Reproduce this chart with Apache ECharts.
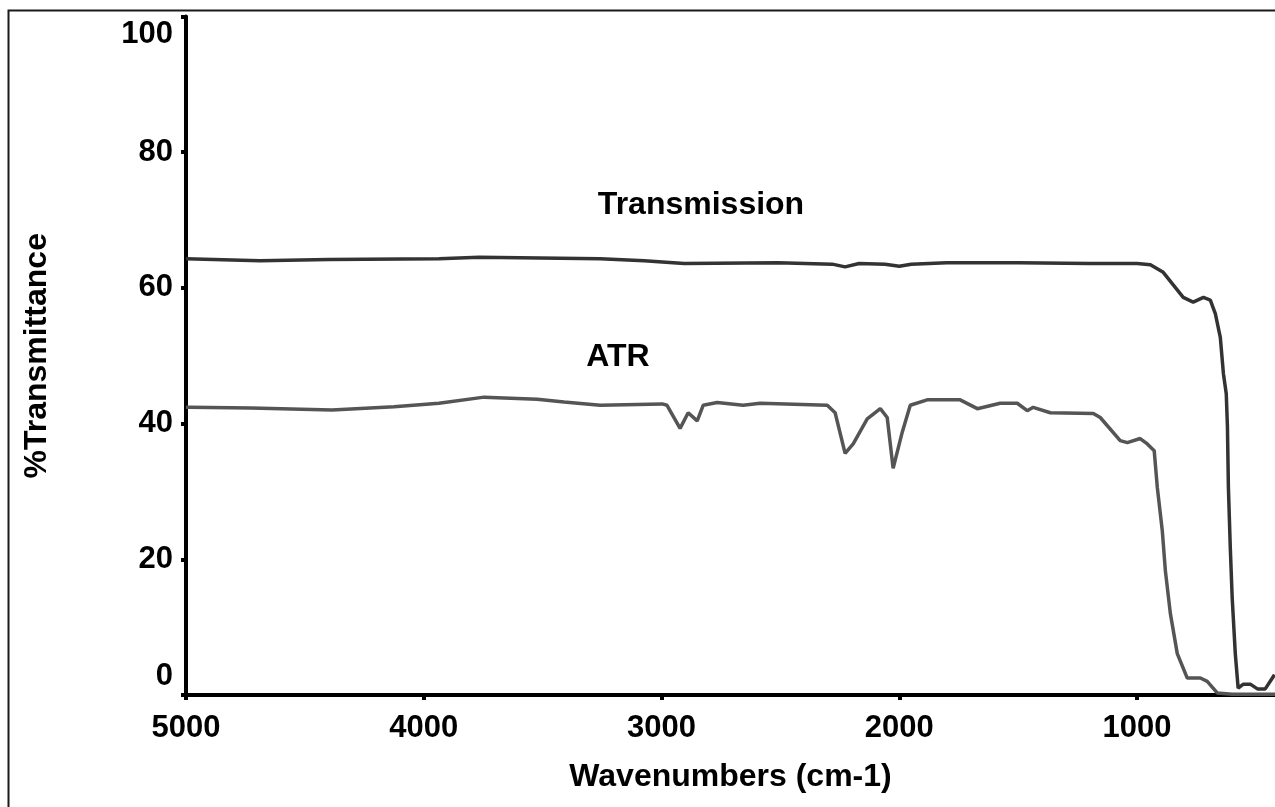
<!DOCTYPE html>
<html>
<head>
<meta charset="utf-8">
<script src="https://cdn.jsdelivr.net/npm/echarts@6/dist/echarts.min.js"></script>
<style>
html,body{margin:0;padding:0;background:#fff;}
#chart{width:1275px;height:807px;}
</style>
</head>
<body>
<div id="chart"></div>
<script>
// Transmission spectrum (wavenumber, %T)
const transWave = [5000,4689,4400,3936,3767,3258,3073,2905,2510,2282,2228,2169,2060,2000,1950,1800,1500,1200,1000,944,890,806,764,721,692,671,650,637,625,620,616,608,600,587,575,553,524,494,461,431,422];
const transValue = [64.3,64.0,64.2,64.3,64.5,64.3,64.0,63.6,63.7,63.5,63.1,63.6,63.5,63.2,63.5,63.7,63.7,63.6,63.6,63.4,62.3,58.6,57.9,58.6,58.2,56.2,52.7,47.4,44.4,39.5,30.6,21.7,14.3,6.1,1.0,1.6,1.6,0.9,0.9,2.5,3.0];
// ATR spectrum (wavenumber, %T)
const atrWave = [5000,4987,4727,4386,4125,3936,3746,3523,3410,3258,2997,2977,2922,2888,2850,2825,2766,2657,2585,2303,2270,2228,2194,2135,2080,2051,2026,1988,1954,1883,1744,1672,1576,1504,1462,1437,1365,1184,1155,1071,1041,987,957,928,915,894,881,860,831,789,734,705,663,600,500,420];
const atrValue = [42.4,42.4,42.3,42.0,42.5,43.0,43.9,43.6,43.2,42.7,42.9,42.7,39.3,41.6,40.4,42.7,43.1,42.7,43.0,42.7,41.6,35.6,37.0,40.7,42.2,40.9,33.4,38.7,42.7,43.5,43.5,42.2,43.0,43.0,41.9,42.4,41.6,41.5,40.9,37.5,37.2,37.8,37.0,36.0,30.6,24.2,18.3,12.0,6.1,2.5,2.5,2.0,0.3,0.1,0.1,0.1];
const xTicks = [5000,4000,3000,2000,1000];
const yTicks = [0,20,40,60,80,100];
const seriesNames = ['Transmission','ATR'];
const annotations = [
  {name:'Transmission', coord:[2834,72.2]},
  {name:'ATR', coord:[3183,49.8]}
];

const pair = (xs, ys) => xs.map((x,i)=>[x, ys[i]]);
const FONT = '"Liberation Sans", Arial, sans-serif';

const chart = echarts.init(document.getElementById('chart'), null, {renderer:'canvas'});
chart.setOption({
  animation:false,
  backgroundColor:'#fff',
  grid:{left:186, right:0, top:16.5, bottom:112, containLabel:false},
  xAxis:{
    type:'value', inverse:true, min:420, max:5000,
    name:'Wavenumbers (cm-1)', nameLocation:'middle', nameGap:66,
    nameTextStyle:{fontFamily:FONT, fontWeight:'bold', fontSize:32, color:'#000'},
    axisLine:{show:true, onZero:false, lineStyle:{color:'#000', width:4}},
    axisTick:{show:true, customValues:xTicks, length:5, lineStyle:{color:'#000', width:4}},
    axisLabel:{customValues:xTicks, margin:18, fontFamily:FONT, fontWeight:'bold', fontSize:31, color:'#000',
      formatter:function(v){ return String(v); }},
    splitLine:{show:false}
  },
  yAxis:{
    type:'value', min:0, max:100, interval:20,
    name:'%Transmittance', nameLocation:'middle', nameGap:133, nameRotate:90,
    nameTextStyle:{fontFamily:FONT, fontWeight:'bold', fontSize:32, color:'#000'},
    axisLine:{show:true, lineStyle:{color:'#000', width:4}},
    axisTick:{show:true, length:5, lineStyle:{color:'#000', width:4}},
    axisLabel:{
      margin:13, fontFamily:FONT, fontWeight:'bold', fontSize:31, color:'#000',
      formatter:function(v){
        if (v===100) return '{top|100}';
        if (v===0) return '{bot|0}';
        return String(v);
      },
      rich:{
        top:{fontFamily:FONT, fontWeight:'bold', fontSize:31, color:'#000', padding:[36,0,0,0]},
        bot:{fontFamily:FONT, fontWeight:'bold', fontSize:31, color:'#000', padding:[0,0,38,0]}
      }
    },
    splitLine:{show:false}
  },
  graphic:[{
    type:'polyline', silent:true,
    shape:{points:[[8.5,807],[8.5,10.5],[1275,10.5]]},
    style:{stroke:'#1a1a1a', lineWidth:2, fill:null}
  }],
  series:[
    {
      name:seriesNames[0], type:'line', data:pair(transWave, transValue),
      showSymbol:false, symbol:'none', clip:true,
      lineStyle:{color:'#333333', width:3.5},
      markPoint:{
        symbol:'circle', symbolSize:0,
        label:{show:true, position:'inside', formatter:'{b}', fontFamily:FONT, fontWeight:'bold', fontSize:32, color:'#000'},
        data:[annotations[0]]
      }
    },
    {
      name:seriesNames[1], type:'line', data:pair(atrWave, atrValue),
      showSymbol:false, symbol:'none', clip:true,
      lineStyle:{color:'#555555', width:3.5},
      markPoint:{
        symbol:'circle', symbolSize:0,
        label:{show:true, position:'inside', formatter:'{b}', fontFamily:FONT, fontWeight:'bold', fontSize:32, color:'#000'},
        data:[annotations[1]]
      }
    }
  ]
});
</script>
</body>
</html>
